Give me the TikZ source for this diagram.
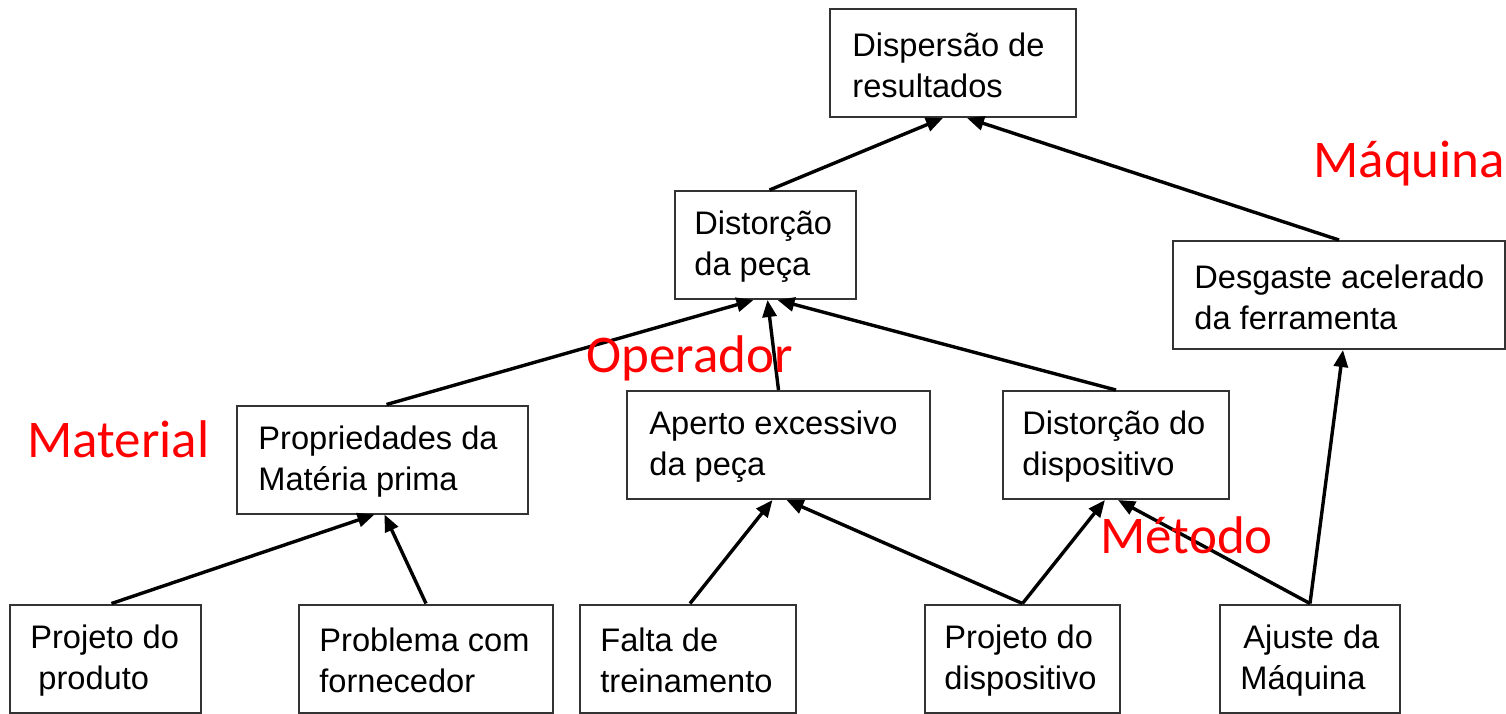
\documentclass[tikz,border=0pt]{standalone}
\usepackage{fontspec}
\setmainfont{Liberation Sans}
\newfontfamily\lblfont{Carlito}
\usetikzlibrary{arrows.meta}
\begin{document}
\begin{tikzpicture}[x=0.5pt,y=-0.5pt,
  box/.style={draw=black!80, line width=1pt, rectangle, inner sep=0pt,
    minimum height=54pt},
  txt/.style={anchor=west, align=left, inner sep=0pt,
    font=\fontsize{16.3}{20.5}\selectfont},
  arr/.style={line width=1.7pt, -{Triangle[length=8.5pt,width=7pt]}},
  cat/.style={text=red, anchor=base west, inner sep=0pt,
    font=\lblfont\fontsize{26.5}{30}\selectfont}]
\useasboundingbox (0,0) rectangle (1506,713);
% boxes
\node[box, minimum width=123pt]   (disp)   at (953,63)      {};
\node[box, minimum width=90.5pt]  (dpeca)  at (765.5,245)   {};
\node[box, minimum width=166pt]   (desg)   at (1339,295)    {};
\node[box, minimum width=145.5pt] (prop)   at (382.5,459.5) {};
\node[box, minimum width=151.5pt] (aperto) at (778.5,445)   {};
\node[box, minimum width=113pt]   (ddisp)  at (1116,445)    {};
\node[box, minimum width=95.5pt]  (pprod)  at (105.5,658.5) {};
\node[box, minimum width=127pt]   (probl)  at (426,658.5)   {};
\node[box, minimum width=108pt]   (falta)  at (688,658.5)   {};
\node[box, minimum width=97.5pt]  (pdisp)  at (1022.5,658.5){};
\node[box, minimum width=90pt]    (ajuste) at (1310,658.5)  {};
% texts
\node[txt] (tdisp)   at ([xshift=11.5pt,yshift=-1pt]disp.west)   {Dispersão de\\resultados};
\node[txt] (tdpeca)  at ([xshift=10pt,yshift=-1pt]dpeca.west)    {Distorção\\da peça};
\node[txt] (tdesg)   at ([xshift=11pt,yshift=-1pt]desg.west)     {Desgaste acelerado\\da ferramenta};
\node[txt] (tprop)   at ([xshift=11pt,yshift=-1pt]prop.west)     {Propriedades da\\Matéria prima};
\node[txt] (taperto) at ([xshift=11.5pt,yshift=-1pt]aperto.west) {Aperto excessivo\\da peça};
\node[txt] (tddisp)  at ([xshift=10pt,yshift=-1pt]ddisp.west)    {Distorção do\\dispositivo};
\node[txt] (tpprod)  at ([xshift=10.5pt,yshift=-1pt]pprod.west)  {Projeto do\\\hspace*{4pt}produto};
\node[txt] (tprobl)  at ([xshift=10.5pt,yshift=-1pt]probl.west)  {Problema com\\fornecedor};
\node[txt] (tfalta)  at ([xshift=10.5pt,yshift=-1pt]falta.west)  {Falta de\\treinamento};
\node[txt] (tpdisp)  at ([xshift=10pt,yshift=-1pt]pdisp.west)    {Projeto do\\dispositivo};
\node[txt] (tajuste) at ([xshift=10.5pt,yshift=-1pt]ajuste.west) {\hspace*{1.5pt}Ajuste da\\Máquina};
% arrows
\draw[arr] ([xshift=2pt]dpeca.north) -- ([xshift=-5pt]disp.south);
\draw[arr] (desg.north) -- ([xshift=7pt]disp.south);
\draw[arr] ([xshift=2pt]prop.north) -- ([xshift=-6pt]dpeca.south);
\draw[arr] (aperto.north) -- ([xshift=1pt]dpeca.south);
\draw[arr] (ddisp.north) -- ([xshift=6pt]dpeca.south);
\draw[arr] ([xshift=3pt]pprod.north) -- ([xshift=-4pt]prop.south);
\draw[arr] (probl.north) -- ([xshift=1pt]prop.south);
\draw[arr] ([xshift=1pt]falta.north) -- ([xshift=-3pt]aperto.south);
\draw[arr] (pdisp.north) -- ([xshift=4pt]aperto.south);
\draw[arr] (pdisp.north) -- ([xshift=-5.5pt]ddisp.south);
\draw[arr] (ajuste.north) -- ([xshift=1pt]ddisp.south);
\draw[arr] (ajuste.north) -- ([xshift=2pt]desg.south);
% category labels
\node[cat] (lmaq) at (1313,177) {Máquina};
\node[cat] (lope) at (586,372)  {Operador};
\node[cat] (lmat) at (27,457)   {Material};
\node[cat] (lmet) at (1100,553) {Método};
\end{tikzpicture}
\end{document}
